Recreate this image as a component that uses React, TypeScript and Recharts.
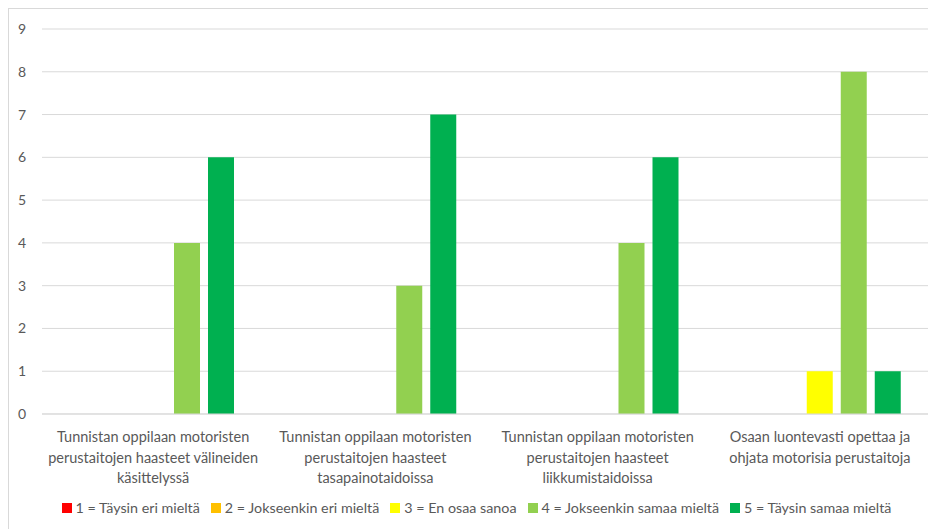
import React from 'react';
import { BarChart, Bar, XAxis, YAxis, CartesianGrid, Legend } from 'recharts';

const categories = [
  'Tunnistan oppilaan motoristen\nperustaitojen haasteet välineiden\nkäsittelyssä',
  'Tunnistan oppilaan motoristen\nperustaitojen haasteet\ntasapainotaidoissa',
  'Tunnistan oppilaan motoristen\nperustaitojen haasteet\nliikkumistaidoissa',
  'Osaan luontevasti opettaa ja\nohjata motorisia perustaitoja',
];

const s1 = [0, 0, 0, 0];
const s2 = [0, 0, 0, 0];
const s3 = [0, 0, 0, 1];
const s4 = [4, 3, 4, 8];
const s5 = [6, 7, 6, 1];

const yTicks = [0, 1, 2, 3, 4, 5, 6, 7, 8, 9];

const series = [
  { key: 's1', label: '1 = Täysin eri mieltä', color: '#FF0000', values: s1 },
  { key: 's2', label: '2 = Jokseenkin eri mieltä', color: '#FFC000', values: s2 },
  { key: 's3', label: '3 = En osaa sanoa', color: '#FFFF00', values: s3 },
  { key: 's4', label: '4 = Jokseenkin samaa mieltä', color: '#92D050', values: s4 },
  { key: 's5', label: '5 = Täysin samaa mieltä', color: '#00B050', values: s5 },
];

const data = categories.map((name, i) => {
  const row: Record<string, string | number> = { name };
  series.forEach(s => { row[s.key] = s.values[i]; });
  return row;
});

const FONT = 'Lato, "Open Sans", sans-serif';
const TEXT = '#595959';

const CategoryTick = (props: any) => {
  const { x, y, payload } = props;
  const lines = String(payload.value).split('\n');
  return (
    <g transform={`translate(${x},${y})`}>
      {lines.map((line, i) => (
        <text key={i} x={0} y={20 + i * 20.5} textAnchor="middle" fill={TEXT} fontSize={14.5} fontFamily={FONT}>
          {line}
        </text>
      ))}
    </g>
  );
};

const LegendContent = () => (
  <div style={{ display: 'flex', justifyContent: 'center', fontFamily: FONT, fontSize: 14.3, color: TEXT, paddingLeft: 24 }}>
    {series.map(s => (
      <span key={s.key} style={{ display: 'inline-flex', alignItems: 'center', marginRight: 11 }}>
        <span style={{ width: 10, height: 10, background: s.color, display: 'inline-block', marginRight: 4 }} />
        {s.label}
      </span>
    ))}
  </div>
);

export default function App() {
  return (
    <div style={{ width: 940, height: 530, borderTop: '1px solid #D9D9D9', borderLeft: '1px solid #D9D9D9', boxSizing: 'border-box', overflow: 'hidden' }}>
      <BarChart
        width={927}
        height={520}
        data={data}
        margin={{ top: 20, right: 5, left: 0, bottom: 0 }}
        barSize={26}
        barGap={8}
      >
        <CartesianGrid vertical={false} stroke="#D9D9D9" />
        <XAxis
          dataKey="name"
          axisLine={{ stroke: '#D9D9D9' }}
          tickLine={false}
          interval={0}
          height={85}
          tick={<CategoryTick />}
        />
        <YAxis
          domain={[0, 9]}
          ticks={yTicks}
          axisLine={false}
          tickLine={false}
          tickSize={0}
          tickMargin={16}
          width={33}
          tick={{ fill: TEXT, fontSize: 14, fontFamily: FONT }}
        />
        <Legend verticalAlign="bottom" height={30} content={<LegendContent />} />
        {series.map(s => (
          <Bar key={s.key} dataKey={s.key} name={s.label} fill={s.color} isAnimationActive={false} />
        ))}
      </BarChart>
    </div>
  );
}
